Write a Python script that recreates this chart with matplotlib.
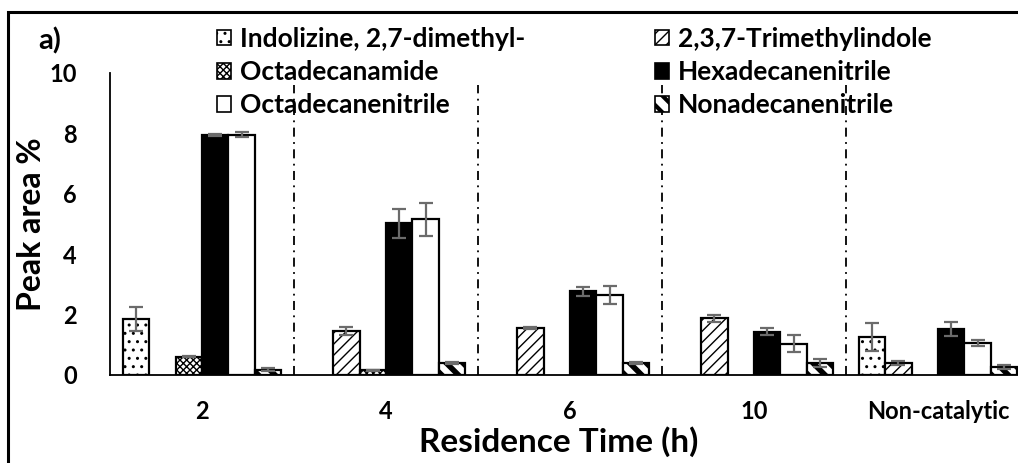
import matplotlib
matplotlib.use('Agg')
import matplotlib.pyplot as plt
from matplotlib.patches import Rectangle, Patch
import numpy as np

plt.rcParams['font.family'] = ['Lato', 'DejaVu Sans']
plt.rcParams['font.weight'] = 'bold'
plt.rcParams['axes.labelweight'] = 'bold'

# residence time groups
groups = ['2', '4', '6', '10', 'Non-catalytic']

# peak area % per compound (mean, sd)
indolizine = [1.85, 0, 0, 0, 1.26]
indolizine_err = [0.40, 0, 0, 0, 0.46]
trimethylindole = [0, 1.46, 1.55, 1.88, 0.40]
trimethylindole_err = [0, 0.13, 0.04, 0.12, 0.08]
octadecanamide = [0.60, 0.15, 0, 0, 0]
octadecanamide_err = [0.02, 0.01, 0, 0, 0]
hexadecanenitrile = [7.95, 5.03, 2.78, 1.43, 1.52]
hexadecanenitrile_err = [0.03, 0.48, 0.15, 0.12, 0.23]
octadecanenitrile = [7.95, 5.16, 2.65, 1.03, 1.06]
octadecanenitrile_err = [0.08, 0.55, 0.30, 0.28, 0.11]
nonadecanenitrile = [0.17, 0.40, 0.40, 0.40, 0.27]
nonadecanenitrile_err = [0.05, 0.03, 0.03, 0.13, 0.06]

series = [
    ('Indolizine, 2,7-dimethyl-', indolizine, indolizine_err, 'white', '..', 1.0),
    ('2,3,7-Trimethylindole', trimethylindole, trimethylindole_err, 'white', '///', 1.0),
    ('Octadecanamide', octadecanamide, octadecanamide_err, 'white', 'xxxxx', 1.0),
    ('Hexadecanenitrile', hexadecanenitrile, hexadecanenitrile_err, 'black', '', 1.0),
    ('Octadecanenitrile', octadecanenitrile, octadecanenitrile_err, 'white', '', 1.0),
    ('Nonadecanenitrile', nonadecanenitrile, nonadecanenitrile_err, 'white', '\\\\', 4.0),
]

fig = plt.figure(figsize=(10.18, 4.63), dpi=100)
ax = fig.add_axes([110/1018, 88/463, 920/1018, 302/463])

x = np.arange(len(groups))
w = 0.1435
handles = []
for k, (name, vals, errs, fc, hatch, hlw) in enumerate(series):
    bars = ax.bar(x + (k - 2.5) * w, vals, w, color=fc, edgecolor='black',
                  linewidth=1.6, hatch=hatch, zorder=2)
    for b, v in zip(bars, vals):
        if hasattr(b, 'set_hatch_linewidth'):
            b.set_hatch_linewidth(hlw)
        if v == 0:
            b.set_visible(False)
    vv = np.array(vals)
    ee = np.array(errs)
    m = vv > 0
    ax.errorbar((x + (k - 2.5) * w)[m], vv[m], yerr=ee[m], fmt='none',
                ecolor='#6b6b6b', elinewidth=1.6, capsize=5, capthick=1.6, zorder=3)
    h = Patch(facecolor=fc, edgecolor='black', hatch=hatch, linewidth=1.2)
    handles.append((h, name))

# dash-dot separators between groups
for i in range(len(groups) - 1):
    ax.plot([i + 0.5, i + 0.5], [0, 9.6], color='black', lw=1.3,
            ls=(0, (5, 3, 1, 3)), zorder=1)

ax.set_xlim(-0.5, len(groups) - 0.5)
ax.set_ylim(0, 10)
ax.set_yticks(range(0, 11, 2))
ax.set_xticks(x)
ax.set_xticklabels(groups)
ax.tick_params(axis='both', length=0, labelsize=17)
ax.tick_params(axis='x', pad=18)
ax.tick_params(axis='y', pad=24)
for lbl in ax.get_xticklabels() + ax.get_yticklabels():
    lbl.set_fontweight('bold')
for sp in ['top', 'right']:
    ax.spines[sp].set_visible(False)
ax.spines['left'].set_linewidth(1.3)
ax.spines['bottom'].set_linewidth(1.3)
ax.set_ylabel('Peak area %', fontsize=23, labelpad=2)
ax.set_xlabel('Residence Time (h)', fontsize=24, labelpad=0)
ax.xaxis.set_label_coords(0.488, -0.17)

order = [0, 2, 4, 1, 3, 5]
leg = fig.legend([handles[i][0] for i in order], [handles[i][1] for i in order],
                 ncol=2, frameon=False, prop={'size': 19, 'weight': 'bold'},
                 loc='upper left', bbox_to_anchor=(217/1018, 1 - 27/463),
                 borderaxespad=0, handlelength=0.53, handleheight=0.53,
                 handletextpad=0.35, columnspacing=4.9, labelspacing=0.35,
                 borderpad=0)
lh = leg.legend_handles[-1]
if hasattr(lh, 'set_hatch_linewidth'):
    lh.set_hatch_linewidth(3.0)

fig.text(50/1018, 1 - 41/463, 'a)', fontsize=21, ha='center', va='center')

# outer frame
fig.patches.append(Rectangle((8/1018, -0.05), 1.1, 1 - 12/463 + 0.05,
                             transform=fig.transFigure, fill=False,
                             edgecolor='black', linewidth=2.2, clip_on=False))

fig.savefig('out.png', dpi=100)
